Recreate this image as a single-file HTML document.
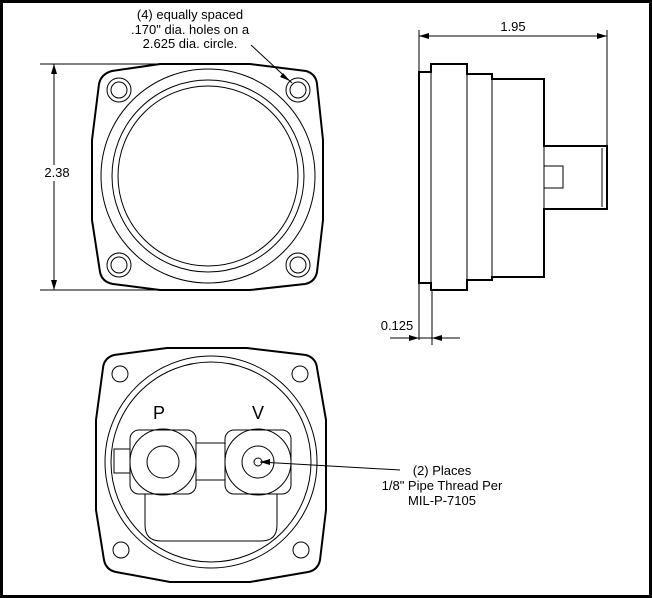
<!DOCTYPE html>
<html><head><style>
html,body{margin:0;padding:0;background:#fff}
svg{display:block}
text{font-family:"Liberation Sans",sans-serif;fill:#000}
</style></head><body>
<svg width="652" height="598" viewBox="0 0 652 598" xmlns="http://www.w3.org/2000/svg">
<rect x="1.5" y="1.5" width="649" height="595" fill="#fff" stroke="#000" stroke-width="3"/>
<g fill="none" stroke="#000">
<path d="M160 64 L250 64 L306 71 Q316 74 317 84 L323 140 L323 220 L317 272 Q315 282 305 284 L250 290 L160 290 L113 284 Q102 282 100 272 L92 220 L92 140 L99 84 Q101 74 112 71 Z" stroke-width="2"/>
<circle cx="208" cy="176" r="107"/>
<circle cx="208" cy="176" r="96"/>
<circle cx="208" cy="176" r="90"/>
<circle cx="119" cy="90" r="12"/><circle cx="119" cy="90" r="8"/>
<circle cx="298" cy="90" r="12"/><circle cx="298" cy="90" r="8"/>
<circle cx="119" cy="265" r="12"/><circle cx="119" cy="265" r="8"/>
<circle cx="298" cy="265" r="12"/><circle cx="298" cy="265" r="8"/>
<line x1="251" y1="45" x2="292" y2="83"/>
<line x1="40" y1="64" x2="160" y2="64"/>
<line x1="40" y1="290" x2="160" y2="290"/>
<line x1="54" y1="64" x2="54" y2="290"/>
<path d="M419 72 L431 72 L431 64 L467 64 L467 74 L492 74 L492 79 L544 79 L544 146 L607 146 L607 209 L544 209 L544 277 L492 277 L492 280 L467 280 L467 290 L431 290 L431 283 L419 283 Z" stroke-width="2"/>
<line x1="431" y1="72" x2="431" y2="283"/>
<line x1="467" y1="74" x2="467" y2="280"/>
<line x1="492" y1="79" x2="492" y2="277"/>
<line x1="544" y1="146" x2="544" y2="209"/>
<line x1="602" y1="148" x2="602" y2="207"/>
<rect x="544" y="166" width="19" height="22"/>
<line x1="419" y1="30" x2="419" y2="340"/>
<line x1="607" y1="30" x2="607" y2="146"/>
<line x1="419" y1="36" x2="607" y2="36"/>
<line x1="432" y1="290" x2="432" y2="345"/>
<line x1="390" y1="338" x2="460" y2="338"/>
<path d="M167 348 L247 348 L306 355 Q316 358 317 368 L326 420 L326 510 L320 560 Q318 570 308 572 L250 582 L170 582 L116 572 Q106 570 104 560 L96 510 L96 420 L103 368 Q104 358 114 355 Z" stroke-width="2"/>
<circle cx="211" cy="462" r="106"/>
<circle cx="211" cy="462" r="100"/>
<circle cx="120" cy="374" r="8"/><circle cx="300" cy="374" r="8"/>
<circle cx="121" cy="550" r="8"/><circle cx="301" cy="550" r="8"/>
<rect x="114" y="449" width="16" height="24"/>
<rect x="130" y="430" width="66" height="64" rx="9"/>
<circle cx="163" cy="462" r="33"/><circle cx="163" cy="462" r="16"/>
<rect x="225" y="430" width="66" height="64" rx="9"/>
<circle cx="258" cy="462" r="33"/><circle cx="258" cy="462" r="16"/><circle cx="258" cy="462" r="4"/>
<line x1="196" y1="443" x2="225" y2="443"/><line x1="196" y1="480" x2="225" y2="480"/>
<path d="M145 494 L145 525 Q145 541 161 541 L261 541 Q277 541 277 525 L277 494"/>
<line x1="260" y1="462" x2="400" y2="470"/>
</g>
<g fill="#000">
<polygon points="290,81 283,73 280,77"/>
<polygon points="54,64 51,74 57,74"/>
<polygon points="54,290 51,280 57,280"/>
<polygon points="419,36 429,33 429,39"/>
<polygon points="607,36 597,33 597,39"/>
<polygon points="419,338 409,335 409,341"/>
<polygon points="432,338 442,335 442,341"/>
<polygon points="260,462 270,459 270,465"/>
</g>
<rect x="43" y="165" width="28" height="16" fill="#fff"/>
<g font-size="13" text-anchor="middle">
<text x="190" y="19">(4) equally spaced</text>
<text x="190" y="34">.170" dia. holes on a</text>
<text x="190" y="48">2.625 dia. circle.</text>
<text x="57" y="177">2.38</text>
<text x="513" y="31">1.95</text>
<text x="397" y="330">0.125</text>
<text x="442" y="475">(2) Places</text>
<text x="442" y="490">1/8" Pipe Thread Per</text>
<text x="442" y="505">MIL-P-7105</text>
<text x="159" y="419" font-size="18">P</text>
<text x="258" y="419" font-size="18">V</text>
</g>
</svg>
</body></html>
